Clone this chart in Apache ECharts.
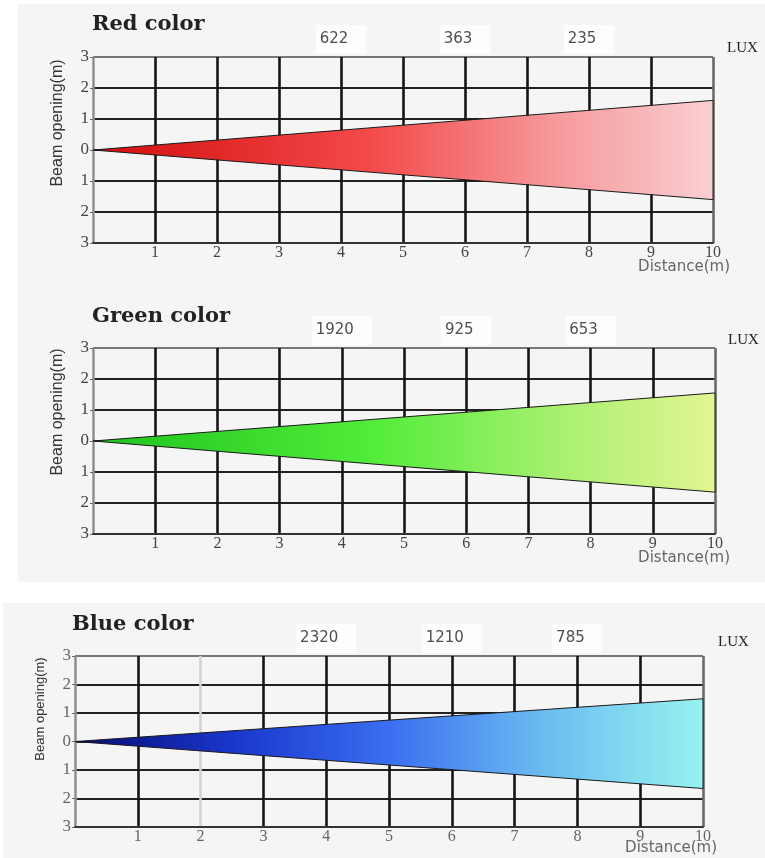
<!DOCTYPE html>
<html>
<head>
<meta charset="utf-8">
<script src="https://cdn.jsdelivr.net/npm/echarts@6/dist/echarts.min.js"></script>
<style>html,body{margin:0;padding:0;background:#fff;}#c{width:765px;height:858px;}</style>
</head>
<body>
<div id="c"></div>
<script>
// ---- data ----
const panelTitles = ['Red color', 'Green color', 'Blue color'];
const beamLength = 10;                 // metres
const beamUpper = [1.6, 1.55, 1.5];    // beam half-opening above axis at 10 m
const beamLower = [1.6, 1.65, 1.65];   // beam half-opening below axis at 10 m
const luxDistance = [4, 6, 8];         // distances of the lux readings
const luxRed = [622, 363, 235];
const luxGreen = [1920, 925, 653];
const luxBlue = [2320, 1210, 785];
const luxValues = [luxRed, luxGreen, luxBlue];
const xMin = 0, xMax = 10, xStep = 1;
const yMin = -3, yMax = 3, yStep = 1;

// ---- styles / layout ----
const grids = [
  {left: 93, top: 57, width: 620, height: 186},
  {left: 93, top: 348, width: 622, height: 186},
  {left: 75, top: 656, width: 628, height: 171}
];
const gradients = [
  [[0, '#d20d0d'], [0.45, '#f44a4a'], [0.75, '#f69a9c'], [1, '#f9cfd2']],
  [[0, '#1ec41e'], [0.45, '#52ec3a'], [0.75, '#a8f070'], [1, '#e2f592']],
  [[0, '#060c70'], [0.25, '#1936cc'], [0.5, '#3a6ef0'], [0.75, '#6cbdf0'], [1, '#96f3f0']]
];
const labelGray = ['#444', '#444', '#666'];
const serif = 'Liberation Serif';
const chart = echarts.init(document.getElementById('c'));

function vColors(panel) {
  const c = [];
  for (let v = xMin; v <= xMax; v += xStep) {
    if (v === xMin) c.push('#9a9a9a');
    else if (v === xMax) c.push('#6a6a6a');
    else if (panel === 2 && v === 2) c.push('#d4d4d4');
    else c.push('#151515');
  }
  return c;
}
function hColors() {
  const c = [];
  for (let v = yMin; v <= yMax; v += yStep) {
    if (v === yMax) c.push('#777');
    else c.push('#222');
  }
  return c;
}

const xAxes = [], yAxes = [], series = [];
grids.forEach((g, i) => {
  xAxes.push({
    gridIndex: i, type: 'value', min: xMin, max: xMax, interval: xStep,
    axisLine: {show: true, onZero: false, lineStyle: {color: '#333', width: 2}},
    axisTick: {show: false},
    axisLabel: {formatter: v => v === 0 ? '' : String(v), margin: 2,
      fontFamily: serif, fontSize: 16, color: labelGray[i]},
    splitLine: {show: true, lineStyle: {color: vColors(i), width: 2.6}}
  });
  yAxes.push({
    gridIndex: i, type: 'value', min: yMin, max: yMax, interval: yStep,
    axisLine: {show: true, onZero: false, lineStyle: {color: '#888', width: 1}},
    axisTick: {show: true, length: 3, lineStyle: {color: '#666'}},
    axisLabel: {formatter: v => String(Math.abs(v)), margin: 4,
      fontFamily: serif, fontSize: 17, color: labelGray[i]},
    splitLine: {show: true, lineStyle: {color: hColors(), width: 2}}
  });
  series.push({
    type: 'custom', xAxisIndex: i, yAxisIndex: i, z: 5, silent: true,
    data: [[beamLength, beamUpper[i], beamLower[i]]],
    renderItem: (params, api) => {
      const L = api.value(0), up = api.value(1), dn = api.value(2);
      const p0 = api.coord([0, 0]);
      const p1 = api.coord([L, up]);
      const p2 = api.coord([L, -dn]);
      return {
        type: 'polygon',
        shape: {points: [p0, p1, p2]},
        style: {
          fill: new echarts.graphic.LinearGradient(0, 0, 1, 0,
            gradients[i].map(s => ({offset: s[0], color: s[1]}))),
          stroke: '#1a1a1a', lineWidth: 1
        }
      };
    }
  });
  series.push({
    type: 'scatter', xAxisIndex: i, yAxisIndex: i, symbolSize: 0, silent: true, z: 6,
    data: luxDistance.map((d, k) => [d, yMax, luxValues[i][k]]),
    label: {
      show: true, position: 'top', distance: 3,
      formatter: p => String(p.data[2]),
      backgroundColor: '#ffffff', padding: [7, 18, 7, 4],
      fontFamily: 'DejaVu Sans', fontSize: 15, color: '#222'
    }
  });
});

const titlePos = [[92, 25], [92, 317], [72, 625]];
const luxPos = [[727, 48], [728, 340], [718, 642]];
const distPos = [[730, 267], [730, 558], [717, 848]];
const beamNamePos = [[58, 123, 16], [58, 412, 16], [40, 709, 13]];

const graphics = [
  {type: 'rect', z: -10, silent: true, shape: {x: 18, y: 4, width: 747, height: 578}, style: {fill: '#f5f5f5'}},
  {type: 'rect', z: -10, silent: true, shape: {x: 3, y: 603, width: 762, height: 255}, style: {fill: '#f5f5f5'}}
];
panelTitles.forEach((t, i) => {
  graphics.push({type: 'text', x: titlePos[i][0], y: titlePos[i][1], silent: true,
    style: {text: t, fontFamily: 'DejaVu Serif', fontWeight: 'bold', fontSize: 21,
      fill: '#222', textAlign: 'left', textVerticalAlign: 'middle'}});
  graphics.push({type: 'text', x: luxPos[i][0], y: luxPos[i][1], silent: true,
    style: {text: 'LUX', fontFamily: serif, fontSize: 15, fill: '#222',
      textAlign: 'left', textVerticalAlign: 'middle'}});
  graphics.push({type: 'text', x: distPos[i][0], y: distPos[i][1], silent: true,
    style: {text: 'Distance(m)', fontFamily: 'DejaVu Sans', fontSize: 15, fill: '#666',
      textAlign: 'right', textVerticalAlign: 'middle'}});
  graphics.push({type: 'text', x: beamNamePos[i][0], y: beamNamePos[i][1], rotation: Math.PI / 2, silent: true,
    style: {text: 'Beam opening(m)', fontFamily: 'Liberation Sans', fontSize: beamNamePos[i][2], fill: '#333',
      textAlign: 'center', textVerticalAlign: 'middle'}});
});

chart.setOption({
  backgroundColor: '#ffffff',
  animation: false,
  grid: grids,
  xAxis: xAxes,
  yAxis: yAxes,
  series: series,
  graphic: graphics
});
</script>
</body>
</html>
